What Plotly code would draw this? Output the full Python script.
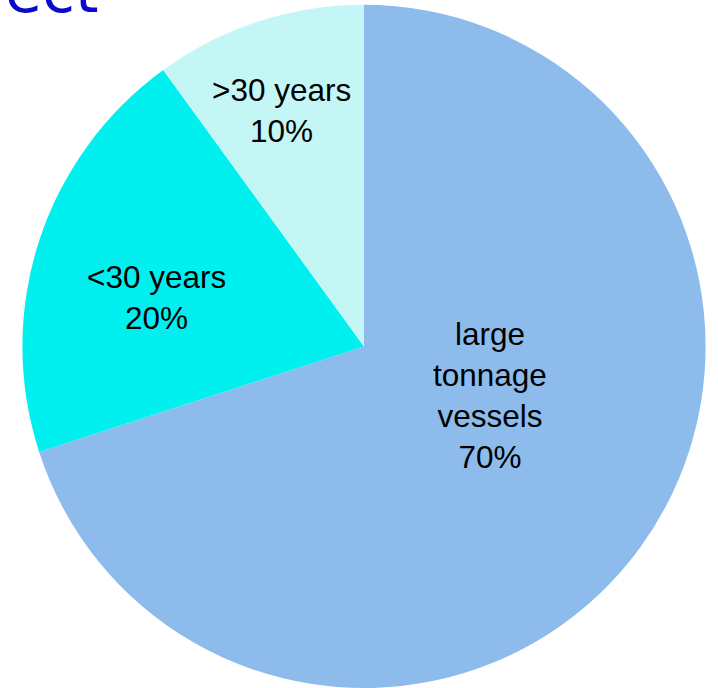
import plotly.graph_objects as go

labels = ["large tonnage vessels", "<30 years", ">30 years"]
label_lines = ["large<br>tonnage<br>vessels", "&lt;30 years", "&gt;30 years"]
values = [70, 20, 10]
colors = ["#8DBCEC", "#00F0F0", "#C4F6F6"]
title_fragment = "ect"

W, H = 718, 688

fig = go.Figure(go.Pie(
    labels=labels,
    values=values,
    sort=False,
    direction="clockwise",
    rotation=0,
    marker=dict(colors=colors, line=dict(width=0)),
    textinfo="none",
    hoverinfo="label+percent",
    domain=dict(x=[22 / W, 706 / W], y=[0, 0.993]),
    showlegend=False,
))

# label positions (pixels in the figure)
label_pos = [(490, 395), (156, 297), (281, 110)]
total = sum(values)
for (px, py), txt, v in zip(label_pos, label_lines, values):
    fig.add_annotation(
        x=px / W, y=1 - py / H, xref="paper", yref="paper",
        xanchor="center", yanchor="middle",
        text=f"{txt}<br>{round(100 * v / total)}%",
        showarrow=False, align="center",
        font=dict(family="Liberation Sans, Arial, sans-serif", size=31.5, color="#000000"),
    )

fig.add_annotation(
    x=100 / W, y=1 - 28 / H, xref="paper", yref="paper",
    xanchor="right", yanchor="bottom",
    text=title_fragment, showarrow=False,
    font=dict(family="DejaVu Sans, Verdana, sans-serif", size=60, color="#0A0ACC"),
)

fig.update_layout(
    width=W, height=H,
    margin=dict(l=0, r=0, t=0, b=0),
    paper_bgcolor="white", plot_bgcolor="white",
)

fig.write_html("out.html", config={"displayModeBar": False},
               post_script="document.body.style.margin='0';")
